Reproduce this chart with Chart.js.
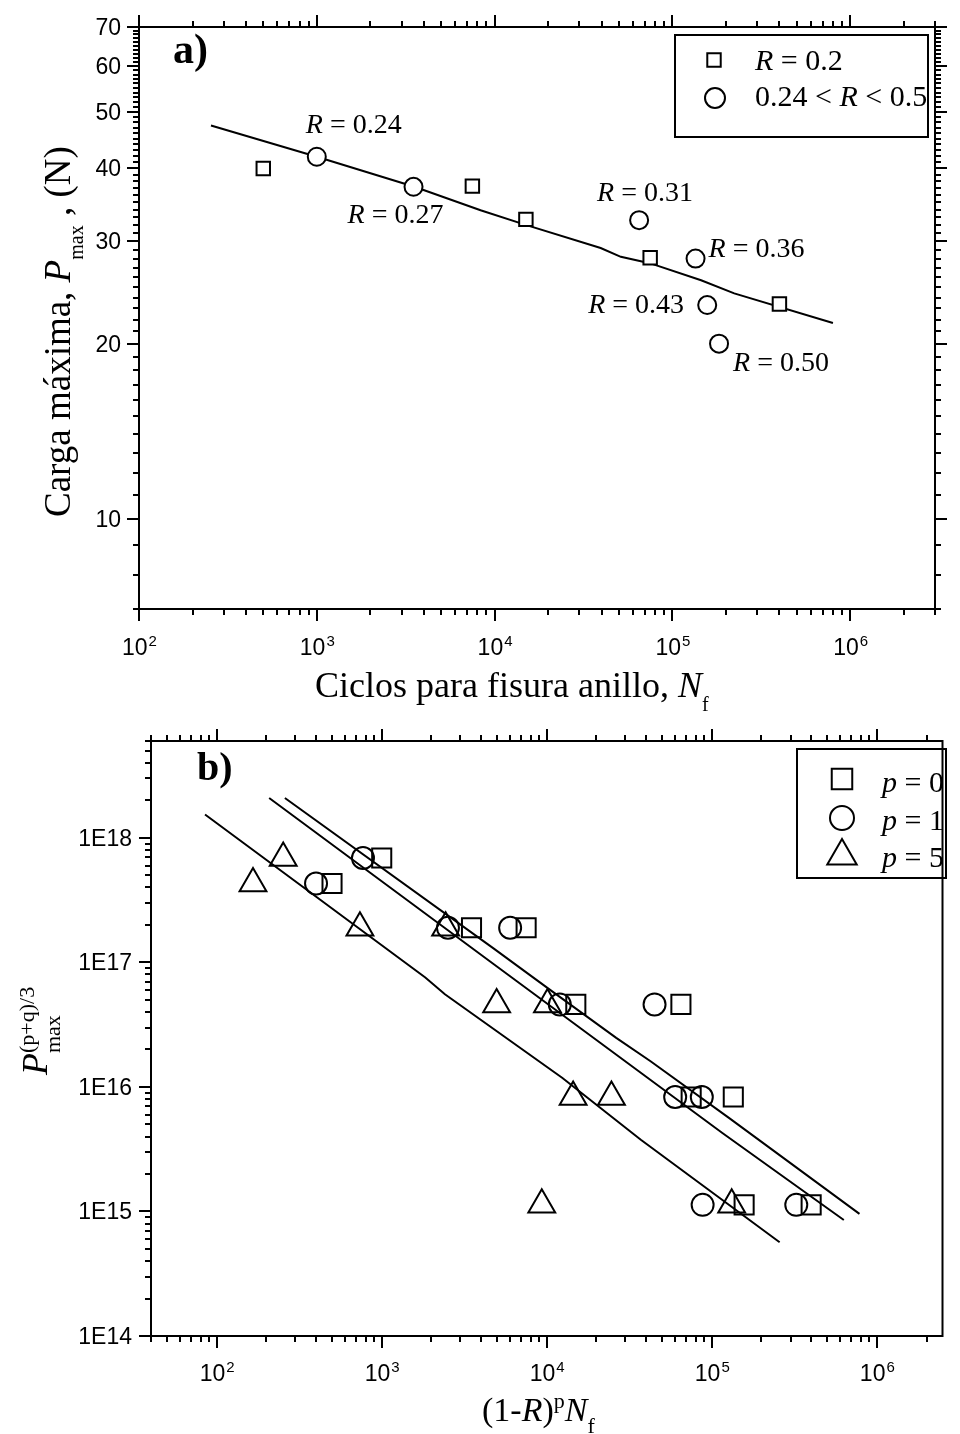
<!DOCTYPE html>
<html>
<head>
<meta charset="utf-8">
<script src="https://cdn.jsdelivr.net/npm/chart.js@4.4.0/dist/chart.umd.min.js"></script>
<style>
  body { margin: 0; background: #fff; }
  canvas { display: block; }
</style>
</head>
<body>
<canvas id="chartA" width="960" height="715"></canvas>
<canvas id="chartB" width="960" height="719"></canvas>
<script>
// panel a: maximum load vs cycles to ring crack
const nfR02 = [500, 7500, 15000, 75000, 400000];
const pmaxR02 = [40, 37.3, 32.7, 28.1, 23.4];
const nfRmid = [1000, 3500, 65000, 135000, 157000, 183000];
const pmaxRmid = [41.9, 37.2, 32.6, 28.0, 23.3, 20.0];
const rMidLabels = ['0.24', '0.27', '0.31', '0.36', '0.43', '0.50'];
const fitANf = [254, 1000, 3540, 8340, 14960, 39500, 51300, 74600, 145000, 222800, 800000];
const fitAPmax = [47.4, 41.9, 37.2, 33.9, 32.0, 29.2, 28.2, 27.5, 25.7, 24.4, 21.7];
const yTicksA = [10, 20, 30, 40, 50, 60, 70];
const xDecadesA = [2, 3, 4, 5, 6];

// panel b: normalised load vs (1-R)^p Nf
const xP0 = [500, 1000, 3500, 7500, 15000, 65000, 75000, 135000, 157000, 400000];
const xP1 = [400, 770, 2520, 6000, 12000, 45000, 60000, 87000, 88000, 325000];
const xP5 = [166, 253, 738, 2440, 4970, 10100, 24660, 14450, 9330, 132000];
const yLoad = [4.3e17, 6.9e17, 1.9e17, 1.9e17, 4.6e16, 4.6e16, 8.3e15, 8.3e15, 1.13e15, 1.13e15];
const fitP0X = [259, 4780, 10380, 26360, 42560, 127000, 785000];
const fitP0Y = [2.09e18, 1.29e17, 6.08e16, 2.48e16, 1.61e16, 5.64e15, 9.57e14];
const fitP1X = [208, 4780, 115900, 631000];
const fitP1Y = [2.09e18, 9.67e16, 4.27e15, 8.55e14];
const fitP5X = [85, 1837, 2415, 12450, 37150, 257700];
const fitP5Y = [1.54e18, 7.56e16, 5.55e16, 1.18e16, 3.77e15, 5.66e14];
const yTicksB = [1e14, 1e15, 1e16, 1e17, 1e18];
const yLabelsB = ['1E14', '1E15', '1E16', '1E17', '1E18'];
const xDecadesB = [2, 3, 4, 5, 6];

const SERIF = '"Liberation Serif", "Times New Roman", serif';
const SANS = '"Liberation Sans", Arial, sans-serif';

// label offsets (px) of the R notes relative to their circles
const rNoteOffsets = [[-11, -24], [-66, 36], [-42, -19], [13, -2], [-119, 8], [14, 27]];

function pts(xs, ys) {
  return xs.map((x, i) => ({ x: x, y: ys[i] }));
}

function line(ctx, x1, y1, x2, y2) {
  ctx.beginPath();
  ctx.moveTo(x1, y1);
  ctx.lineTo(x2, y2);
  ctx.stroke();
}

function logSteps(min, max) {
  const out = [];
  for (let d = Math.floor(Math.log10(min)); d <= Math.ceil(Math.log10(max)); d++) {
    for (let m = 1; m <= 9; m++) {
      const v = m * Math.pow(10, d);
      if (v >= min * 0.999 && v <= max * 1.001) out.push({ v: v, major: m === 1 });
    }
  }
  return out;
}

// mixed italic / sub / superscript text, optionally rotated
function drawRich(ctx, parts, x, y, angle) {
  ctx.save();
  ctx.translate(x, y);
  if (angle) ctx.rotate(angle);
  ctx.textAlign = 'left';
  ctx.textBaseline = 'alphabetic';
  let cx = 0;
  parts.forEach(p => {
    ctx.font = (p.style || '') + ' ' + p.size + 'px ' + (p.family || SERIF);
    ctx.fillText(p.t, cx, p.dy || 0);
    if (!p.hold) cx += ctx.measureText(p.t).width;
  });
  ctx.restore();
}

function drawMarker(ctx, style, x, y, r) {
  ctx.beginPath();
  if (style === 'rect') {
    const s = r * Math.SQRT1_2;
    ctx.rect(x - s, y - s, 2 * s, 2 * s);
  } else if (style === 'circle') {
    ctx.arc(x, y, r, 0, Math.PI * 2);
  } else {
    ctx.moveTo(x, y - r);
    ctx.lineTo(x + r * 0.866, y + r / 2);
    ctx.lineTo(x - r * 0.866, y + r / 2);
    ctx.closePath();
  }
  ctx.stroke();
}

function powLabel(ctx, exp, px, baseY) {
  ctx.font = '23px ' + SANS;
  const w1 = ctx.measureText('10').width;
  ctx.font = '15px ' + SANS;
  const w2 = ctx.measureText(String(exp)).width;
  const left = px - (w1 + w2) / 2;
  ctx.textAlign = 'left';
  ctx.textBaseline = 'alphabetic';
  ctx.font = '23px ' + SANS;
  ctx.fillText('10', left, baseY);
  ctx.font = '15px ' + SANS;
  ctx.fillText(String(exp), left + w1 + 1, baseY - 9);
}

function baseOptions(xr, yr, pad) {
  return {
    responsive: false,
    animation: false,
    events: [],
    layout: { padding: pad },
    plugins: { legend: { display: false }, tooltip: { enabled: false } },
    scales: {
      x: { type: 'logarithmic', min: xr[0], max: xr[1], display: false },
      y: { type: 'logarithmic', min: yr[0], max: yr[1], display: false }
    }
  };
}

const panelA = {
  id: 'panelA',
  afterDraw(chart) {
    const ctx = chart.ctx, xs = chart.scales.x, ys = chart.scales.y, a = chart.chartArea;
    ctx.save();
    ctx.strokeStyle = '#000';
    ctx.fillStyle = '#000';
    ctx.lineWidth = 2;
    ctx.strokeRect(a.left, a.top, a.right - a.left, a.bottom - a.top);

    logSteps(xs.min, xs.max).forEach(t => {
      const px = Math.round(xs.getPixelForValue(t.v));
      const len = t.major ? 12 : 6;
      line(ctx, px, a.bottom, px, a.bottom + len);
      line(ctx, px, a.top, px, a.top - len);
    });
    for (let v = 7; v <= 70; v++) {
      const py = Math.round(ys.getPixelForValue(v));
      const len = v % 10 === 0 ? 12 : 6;
      line(ctx, a.left, py, a.left - len, py);
      line(ctx, a.right, py, a.right + len, py);
    }

    ctx.font = '23px ' + SANS;
    ctx.textAlign = 'right';
    ctx.textBaseline = 'alphabetic';
    yTicksA.forEach(v => {
      ctx.fillText(String(v), a.left - 18, ys.getPixelForValue(v) + 8);
    });
    xDecadesA.forEach(d => powLabel(ctx, d, xs.getPixelForValue(Math.pow(10, d)), a.bottom + 46));

    // axis titles
    drawRich(ctx, [
      { t: 'Ciclos para fisura anillo, ', size: 36 },
      { t: 'N', size: 36, style: 'italic' },
      { t: 'f', size: 20, dy: 14 }
    ], 315, 697);
    drawRich(ctx, [
      { t: 'Carga máxima, ', size: 37 },
      { t: 'P', size: 37, style: 'italic' },
      { t: 'max', size: 20, dy: 13 },
      { t: ' , (N)', size: 37 }
    ], 70, 517, -Math.PI / 2);

    drawRich(ctx, [{ t: 'a)', size: 42, style: 'bold' }], 173, 63);

    // R notes next to the circles
    nfRmid.forEach((nf, i) => {
      const px = xs.getPixelForValue(nf) + rNoteOffsets[i][0];
      const py = ys.getPixelForValue(pmaxRmid[i]) + rNoteOffsets[i][1];
      drawRich(ctx, [
        { t: 'R', size: 28, style: 'italic' },
        { t: ' = ' + rMidLabels[i], size: 28 }
      ], px, py);
    });

    // legend
    ctx.strokeRect(675, 35, 253, 102);
    drawMarker(ctx, 'rect', 714, 60, 9.5);
    drawMarker(ctx, 'circle', 715, 98, 10);
    drawRich(ctx, [
      { t: 'R', size: 30, style: 'italic' },
      { t: ' = 0.2', size: 30 }
    ], 755, 70);
    drawRich(ctx, [
      { t: '0.24 < ', size: 30 },
      { t: 'R', size: 30, style: 'italic' },
      { t: ' < 0.5', size: 30 }
    ], 755, 106);
    ctx.restore();
  }
};

const panelB = {
  id: 'panelB',
  afterDraw(chart) {
    const ctx = chart.ctx, xs = chart.scales.x, ys = chart.scales.y, a = chart.chartArea;
    ctx.save();
    ctx.strokeStyle = '#000';
    ctx.fillStyle = '#000';
    ctx.lineWidth = 2;
    ctx.strokeRect(a.left, a.top, a.right - a.left, a.bottom - a.top);

    logSteps(xs.min, xs.max).forEach(t => {
      const px = Math.round(xs.getPixelForValue(t.v));
      const len = t.major ? 12 : 6;
      line(ctx, px, a.bottom, px, a.bottom + len);
      line(ctx, px, a.top, px, a.top - len);
    });
    logSteps(ys.min, ys.max).forEach(t => {
      const py = Math.round(ys.getPixelForValue(t.v));
      line(ctx, a.left, py, a.left - (t.major ? 12 : 6), py);
    });

    ctx.font = '23px ' + SANS;
    ctx.textAlign = 'right';
    ctx.textBaseline = 'alphabetic';
    yTicksB.forEach((v, i) => {
      ctx.fillText(yLabelsB[i], a.left - 19, ys.getPixelForValue(v) + 8);
    });
    xDecadesB.forEach(d => powLabel(ctx, d, xs.getPixelForValue(Math.pow(10, d)), a.bottom + 45));

    drawRich(ctx, [
      { t: '(1-', size: 34 },
      { t: 'R', size: 34, style: 'italic' },
      { t: ')', size: 34 },
      { t: 'p', size: 22, dy: -13 },
      { t: 'N', size: 34, style: 'italic' },
      { t: 'f', size: 22, dy: 12 }
    ], 482, 706);
    drawRich(ctx, [
      { t: 'P', size: 36, style: 'italic' },
      { t: '(p+q)/3', size: 22, dy: -13, hold: true },
      { t: 'max', size: 22, dy: 13 }
    ], 47, 360, -Math.PI / 2);

    drawRich(ctx, [{ t: 'b)', size: 40, style: 'bold' }], 197, 65);

    // legend
    ctx.strokeRect(797, 34, 149, 129);
    drawMarker(ctx, 'rect', 842, 64, 14.5);
    drawMarker(ctx, 'circle', 842, 103, 12);
    drawMarker(ctx, 'triangle', 842, 141, 17);
    ['0', '1', '5'].forEach((p, i) => {
      drawRich(ctx, [
        { t: 'p', size: 30, style: 'italic' },
        { t: ' = ' + p, size: 30 }
      ], 882, 77 + i * 37.5);
    });
    ctx.restore();
  }
};

function markerSet(data, style, r, fill) {
  return {
    data: data,
    pointStyle: style,
    pointRadius: r,
    pointBorderWidth: 2,
    pointBorderColor: '#000',
    pointBackgroundColor: fill,
    showLine: false
  };
}

function fitSet(data) {
  return {
    data: data,
    showLine: true,
    borderColor: '#000',
    borderWidth: 2,
    pointRadius: 0,
    tension: 0,
    fill: false
  };
}

new Chart(document.getElementById('chartA'), {
  type: 'scatter',
  data: {
    datasets: [
      markerSet(pts(nfR02, pmaxR02), 'rect', 9.5, '#fff'),
      markerSet(pts(nfRmid, pmaxRmid), 'circle', 9, '#fff'),
      fitSet(pts(fitANf, fitAPmax))
    ]
  },
  options: baseOptions([100, 3e6], [7, 70], { left: 139, top: 27, right: 25, bottom: 106 }),
  plugins: [panelA]
});

new Chart(document.getElementById('chartB'), {
  type: 'scatter',
  data: {
    datasets: [
      markerSet(pts(xP0, yLoad), 'rect', 13.5, 'rgba(0,0,0,0)'),
      markerSet(pts(xP1, yLoad), 'circle', 11, 'rgba(0,0,0,0)'),
      markerSet(pts(xP5, yLoad), 'triangle', 15.5, 'rgba(0,0,0,0)'),
      fitSet(pts(fitP0X, fitP0Y)),
      fitSet(pts(fitP1X, fitP1Y)),
      fitSet(pts(fitP5X, fitP5Y))
    ]
  },
  options: baseOptions([40, 2.5e6], [1e14, 6e18], { left: 151, top: 26, right: 3, bottom: 98 }),
  plugins: [panelB]
});
</script>
</body>
</html>
